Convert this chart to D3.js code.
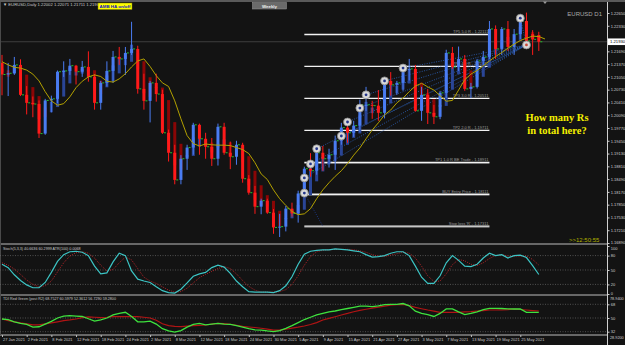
<!DOCTYPE html>
<meta charset="utf-8">
<style>
body,html { margin:0; padding:0; background:#131313; overflow:hidden; }
svg { display:block; font-family: "Liberation Sans", Arial, sans-serif; }
</style>
<svg width="625" height="345"></svg>
<script src="https://d3js.org/d3.v7.min.js"></script>
<script>

// --- data ---
var dates = ["27 Jan 2021","28 Jan 2021","29 Jan 2021","1 Feb 2021","2 Feb 2021","3 Feb 2021","4 Feb 2021","5 Feb 2021",
  "8 Feb 2021","9 Feb 2021","10 Feb 2021","11 Feb 2021","12 Feb 2021","15 Feb 2021","16 Feb 2021","17 Feb 2021",
  "18 Feb 2021","19 Feb 2021","22 Feb 2021","23 Feb 2021","24 Feb 2021","25 Feb 2021","26 Feb 2021","1 Mar 2021",
  "2 Mar 2021","3 Mar 2021","4 Mar 2021","5 Mar 2021","8 Mar 2021","9 Mar 2021","10 Mar 2021","11 Mar 2021",
  "12 Mar 2021","15 Mar 2021","16 Mar 2021","17 Mar 2021","18 Mar 2021","19 Mar 2021","22 Mar 2021","23 Mar 2021",
  "24 Mar 2021","25 Mar 2021","26 Mar 2021","29 Mar 2021","30 Mar 2021","31 Mar 2021","1 Apr 2021","2 Apr 2021",
  "5 Apr 2021","6 Apr 2021","7 Apr 2021","8 Apr 2021","9 Apr 2021","12 Apr 2021","13 Apr 2021","14 Apr 2021",
  "15 Apr 2021","16 Apr 2021","19 Apr 2021","20 Apr 2021","21 Apr 2021","22 Apr 2021","23 Apr 2021","26 Apr 2021",
  "27 Apr 2021","28 Apr 2021","29 Apr 2021","30 Apr 2021","3 May 2021","4 May 2021","5 May 2021","6 May 2021",
  "7 May 2021","10 May 2021","11 May 2021","12 May 2021","13 May 2021","14 May 2021","17 May 2021","18 May 2021",
  "19 May 2021","20 May 2021","21 May 2021","24 May 2021","25 May 2021","26 May 2021","27 May 2021","28 May 2021"];

var opens = [1.2140,1.2111,1.2114,1.2135,1.2060,1.2040,1.2037,1.1963,1.2046,1.2050,
  1.2118,1.2120,1.2133,1.2118,1.2130,1.2105,1.2040,1.2090,1.2120,1.2155,
  1.2150,1.2165,1.2175,1.2075,1.2045,1.2090,1.2062,1.1965,1.1915,1.1847,
  1.1900,1.1928,1.1985,1.1950,1.1930,1.1900,1.1980,1.1915,1.1905,1.1935,
  1.1850,1.1815,1.1780,1.1795,1.1765,1.1728,1.1730,1.1775,1.1763,1.1813,
  1.1875,1.1870,1.1915,1.1900,1.1910,1.1945,1.1978,1.1965,1.1983,1.2035,
  1.2035,1.2033,1.2015,1.2095,1.2085,1.2090,1.2125,1.2125,1.2020,1.2060,
  1.2015,1.2005,1.2065,1.2165,1.2130,1.2150,1.2075,1.2080,1.2145,1.2155,
  1.2225,1.2175,1.2225,1.2180,1.2212,1.2245,1.2212,1.2210];
var highs = [1.2160,1.2140,1.2155,1.2149,1.2082,1.2056,1.2046,1.2050,1.2058,1.2121,
  1.2144,1.2150,1.2135,1.2145,1.2169,1.2112,1.2095,1.2144,1.2170,1.2180,
  1.2180,1.2243,1.2183,1.2113,1.2095,1.2113,1.2073,1.1973,1.1935,1.1909,
  1.1935,1.1990,1.1988,1.1965,1.1952,1.1988,1.1990,1.1943,1.1945,1.1940,
  1.1859,1.1832,1.1800,1.1800,1.1774,1.1762,1.1782,1.1790,1.1820,1.1880,
  1.1914,1.1927,1.1932,1.1925,1.1958,1.1990,1.1995,1.1995,1.2048,1.2080,
  1.2045,1.2072,1.2100,1.2117,1.2095,1.2130,1.2150,1.2135,1.2080,1.2075,
  1.2035,1.2070,1.2173,1.2180,1.2181,1.2160,1.2090,1.2150,1.2170,1.2245,
  1.2234,1.2230,1.2245,1.2225,1.2262,1.2266,1.2222,1.2218];
var lows = [1.2059,1.2057,1.2110,1.2057,1.2011,1.2004,1.1952,1.1960,1.2016,1.2039,
  1.2105,1.2110,1.2086,1.2105,1.2093,1.2023,1.2023,1.2081,1.2090,1.2135,
  1.2110,1.2160,1.2063,1.2023,1.1991,1.2043,1.1962,1.1893,1.1836,1.1836,
  1.1872,1.1910,1.1910,1.1900,1.1882,1.1883,1.1910,1.1874,1.1885,1.1840,
  1.1810,1.1762,1.1761,1.1762,1.1712,1.1704,1.1718,1.1755,1.1740,1.1810,
  1.1855,1.1860,1.1870,1.1878,1.1872,1.1935,1.1940,1.1955,1.1968,1.2020,
  1.2000,1.1995,1.2001,1.2058,1.2060,1.2070,1.2096,1.2018,1.1995,1.1987,
  1.1987,1.1999,1.2052,1.2125,1.2120,1.2070,1.2052,1.2076,1.2135,1.2150,
  1.2150,1.2160,1.2170,1.2160,1.2200,1.2180,1.2160,1.2170];
var closes = [1.2111,1.2114,1.2135,1.2060,1.2040,1.2037,1.1963,1.2046,1.2050,1.2118,
  1.2120,1.2133,1.2118,1.2130,1.2105,1.2040,1.2090,1.2120,1.2155,1.2150,
  1.2165,1.2175,1.2075,1.2045,1.2090,1.2062,1.1965,1.1915,1.1847,1.1900,
  1.1928,1.1985,1.1950,1.1930,1.1900,1.1980,1.1915,1.1905,1.1935,1.1850,
  1.1815,1.1780,1.1795,1.1765,1.1728,1.1730,1.1775,1.1763,1.1813,1.1875,
  1.1870,1.1915,1.1900,1.1910,1.1945,1.1978,1.1965,1.1983,1.2035,1.2035,
  1.2033,1.2015,1.2095,1.2085,1.2090,1.2125,1.2125,1.2020,1.2060,1.2015,
  1.2005,1.2065,1.2165,1.2130,1.2150,1.2075,1.2080,1.2145,1.2155,1.2225,
  1.2175,1.2225,1.2180,1.2212,1.2245,1.2195,1.2199,1.2193];

// yellow moving average (drawn shifted, one value per bar slot)
var maVals = [1.2143,1.2135,1.2129,1.2127,1.2122,1.2112,1.2095,1.2068,1.2045,1.2034,
  1.2038,1.2055,1.2078,1.2094,1.2105,1.2110,1.2106,1.2094,1.2092,1.2100,
  1.2113,1.2130,1.2145,1.2150,1.2131,1.2108,1.2090,1.2081,1.2045,1.2000,
  1.1958,1.1938,1.1932,1.1937,1.1935,1.1934,1.1934,1.1933,1.1928,1.1923,
  1.1913,1.1890,1.1862,1.1848,1.1822,1.1800,1.1783,1.1768,1.1760,1.1762,
  1.1775,1.1800,1.1822,1.1840,1.1856,1.1870,1.1888,1.1909,1.1927,1.1950,
  1.1972,1.1990,1.2010,1.2022,1.2040,1.2052,1.2068,1.2082,1.2089,1.2080,
  1.2072,1.2058,1.2044,1.2046,1.2072,1.2098,1.2112,1.2121,1.2133,1.2145,
  1.2156,1.2166,1.2177,1.2187,1.2196,1.2202,1.2207,1.2206,1.2200];

var stochMain = [62,55,40,28,19,13,13,24,45,68,82,88,89,87,80,58,42,44,67,85,
  80,48,31,27,24,15,7,3,2,10,23,37,42,45,55,60,56,43,27,15,
  5,4,4,4,3,7,17,36,62,83,89,91,92,92,94,93,92,90,88,82,
  77,78,80,85,88,88,80,58,35,22,22,38,65,80,70,58,57,62,75,85,
  80,82,75,80,81,76,59,40.66];
var stochSignal = [65,60,52,41,29,20,15,17,27,46,65,79,86,88,85,75,60,48,51,65,
  77,71,53,35,27,22,15,8,4,5,12,23,34,41,47,53,57,53,42,28,
  16,8,4,4,4,5,9,20,38,60,78,88,91,92,93,93,93,92,90,87,
  82,79,78,81,84,87,85,75,58,38,26,27,42,61,72,69,62,59,65,74,
  80,82,79,79,79,79,72,60.3];
var stochLevels = [80, 50, 20];
var stochLabels = [100, 80, 50, 20, 0];

var tdiGreen = [48.7,47.8,45,43,41.5,38,38.5,42,45.5,50,52.5,53,52.5,52,49,46,47.4,50,54,56,
  57.5,52,45,45,46,42,36,33,31.5,33.5,38,41.7,43,41,42,43,42,41.7,40,38,
  36,34.5,34.2,33,32,33.5,36.5,40,44,48,51,54,56.2,58,59.2,61,62.5,64,65.5,65.5,
  65,66,67.5,68,68,69,66,59,56,54.5,52,56,62,62,58,54.5,56,58,61,62.7,
  62.7,62.5,62,61.8,61.8,57.5,57.5,57.5];
var tdiRed = [48.7,46.5,45,43.5,42.2,41,41,42.3,43.5,45,46.5,47.5,48.7,50.5,51.5,51,50.5,51,51.7,51.7,
  51.7,51.7,51.7,51,50,47,42.5,40,39,38.6,39.3,39.9,40.3,40.8,42,43,42.5,41.8,40.5,39,
  38.2,37.5,36.5,35.5,34.2,34.2,35.2,36.8,38,39.5,41.5,44,47.4,49.5,51.7,54,56,58.2,60,61.5,
  63,64.2,65.5,66.8,67.5,68,66.4,64,62.2,60.5,59,57.5,57.5,57.5,57.5,58,58.5,59.2,59.8,60.5,
  60.5,60.5,61,61.8,61.2,60.5,59.8,59.2];
var tdiLevels = [68, 50, 32];

// price labels (the one under the current price box is hidden in the chart)
var priceTicks = [1.22650,1.22330,1.21690,1.21370,1.21050,1.20730,1.20410,1.20090,1.19770,
  1.19450,1.19130,1.18810,1.18490,1.18170,1.17850,1.17530,1.17210,1.16890];
var currentPrice = 1.21930;

// trade levels (entry, stop and R multiples)
var levelPrices = [1.22111, 1.21311, 1.20511, 1.19711, 1.18911, 1.18111, 1.17311];
var levelNames = ["TP5 5.0 R", "TP4 4.0 R", "TP3 3.0 R", "TP2 2.0 R", "TP1 1.0 R BE Trade", "BUY Entry Price", "Stop loss 'R'"];
var levelStartBar = 49, levelEndBar = 79;

// R markers (bar index, price)
var markerBars = [49, 49, 50, 51, 55, 56, 58, 59, 62, 65, 84, 85];
var markerPrices = [1.1814, 1.1852, 1.1887, 1.1925, 1.1957, 1.1992, 1.2027, 1.2060, 1.2095, 1.2127, 1.2252, 1.2185];

// --- layout ---
var svg = d3.select("svg");
var W = 625, H = 345, axisX = 607.5;
var sans = "Liberation Sans, Arial, sans-serif";

var x = d3.scaleLinear().domain([0, 87]).range([2, 538.8]);
var y = d3.scaleLinear().domain([1.16890, 1.22650]).range([243, 13]);
var yS = d3.scaleLinear().domain([0, 100]).range([294, 246]);
var yT = d3.scaleLinear().domain([32, 68]).range([331.7, 304.3]);

svg.append("rect").attr("width", W).attr("height", H).attr("fill", "#131313");
svg.append("rect").attr("width", W).attr("height", 2).attr("fill", "#5a5a5a");

svg.append("clipPath").attr("id", "main").append("rect")
    .attr("x", 0).attr("y", 3).attr("width", axisX).attr("height", 240);
var main = svg.append("g").attr("clip-path", "url(#main)");

// current price line
main.append("line").attr("x1", 0).attr("x2", axisX)
    .attr("y1", y(currentPrice)).attr("y2", y(currentPrice))
    .attr("stroke", "#4a4a4a").attr("stroke-width", 0.8);

// trade level lines
levelPrices.forEach(function(p, i) {
  var low = i >= 4;
  if (low) main.append("line").attr("x1", x(levelStartBar)).attr("x2", x(levelEndBar))
      .attr("y1", y(p) + 1).attr("y2", y(p) + 1).attr("stroke", "#777").attr("stroke-width", 1.2);
  main.append("line").attr("x1", x(levelStartBar)).attr("x2", x(levelEndBar))
      .attr("y1", y(p)).attr("y2", y(p)).attr("stroke", "#f2f2f2").attr("stroke-width", 1.3);
  main.append("text").attr("x", x(levelEndBar) - 1).attr("y", y(p) - 1.3)
      .attr("text-anchor", "end").attr("font-size", 4).attr("fill", "#9a9a9a")
      .text(levelNames[i] + " - " + d3.format(".5f")(p));
});

// dotted fan from markers to the last marker
var last = markerBars.length - 1;
for (var k = 1; k < last; k++) {
  main.append("line")
      .attr("x1", x(markerBars[k])).attr("y1", y(markerPrices[k]))
      .attr("x2", x(markerBars[last])).attr("y2", y(markerPrices[last]))
      .attr("stroke", "#2f64c0").attr("stroke-width", 0.8).attr("stroke-dasharray", "1,1.4");
}
main.append("line")
    .attr("x1", x(markerBars[0])).attr("y1", y(markerPrices[0]))
    .attr("x2", x(52)).attr("y2", y(levelPrices[6]))
    .attr("stroke", "#1f3f9a").attr("stroke-width", 0.8).attr("stroke-dasharray", "1,1.4");

// Heiken Ashi bodies (derived from the OHLC arrays), drawn dark under the candles
var haO = [], haC = [];
opens.forEach(function(o, i) {
  haC[i] = (o + highs[i] + lows[i] + closes[i]) / 4;
  haO[i] = i === 0 ? (o + closes[i]) / 2 : (haO[i - 1] + haC[i - 1]) / 2;
});
var bw = 3;
main.selectAll(".ha").data(opens).enter().append("rect")
    .attr("x", function(d, i) { return x(i) - bw / 2; })
    .attr("y", function(d, i) { return y(Math.max(haO[i], haC[i])); })
    .attr("width", bw)
    .attr("height", function(d, i) { return Math.max(1, Math.abs(y(haO[i]) - y(haC[i]))); })
    .attr("fill", function(d, i) { return haC[i] >= haO[i] ? "#2a4596" : "#8a0606"; });

function col(i) { return closes[i] >= opens[i] ? "#4a7cf2" : "#ff1a1a"; }

main.selectAll(".wick").data(opens).enter().append("line")
    .attr("x1", function(d, i) { return x(i); }).attr("x2", function(d, i) { return x(i); })
    .attr("y1", function(d, i) { return y(highs[i]); })
    .attr("y2", function(d, i) { return y(lows[i]); })
    .attr("stroke", function(d, i) { return col(i); }).attr("stroke-width", 1);

main.selectAll(".body").data(opens).enter().append("rect")
    .attr("x", function(d, i) { return x(i) - bw / 2; })
    .attr("y", function(d, i) { return y(Math.max(opens[i], closes[i])); })
    .attr("width", bw)
    .attr("height", function(d, i) { return Math.max(1, Math.abs(y(opens[i]) - y(closes[i]))); })
    .attr("fill", function(d, i) { return col(i); });

main.selectAll(".ct").data(closes).enter().append("line")
    .attr("x1", function(d, i) { return x(i) + bw / 2; })
    .attr("x2", function(d, i) { return x(i) + bw / 2 + 2; })
    .attr("y1", function(d) { return y(d); }).attr("y2", function(d) { return y(d); })
    .attr("stroke", "#22c02a").attr("stroke-width", 1);

// moving average
main.append("path").datum(maVals)
    .attr("d", d3.line().x(function(d, i) { return x(i); }).y(function(d) { return y(d); }))
    .attr("fill", "none").attr("stroke", "#b3a100").attr("stroke-width", 1);

// R markers
markerBars.forEach(function(b, i) {
  var g = main.append("g").attr("transform", "translate(" + x(b) + "," + y(markerPrices[i]) + ")");
  g.append("circle").attr("r", 4).attr("fill", "#d8d8d8").attr("stroke", "#8a8a8a").attr("stroke-width", 0.8);
  g.append("circle").attr("r", 1.4).attr("fill", i === last ? "#c84a3a" : "#23358a");
});

// annotations
var serif = "Liberation Serif, 'DejaVu Serif', serif";
svg.append("text").attr("x", 557).attr("y", 121).attr("text-anchor", "middle")
    .style("font-family", serif).attr("font-weight", "bold")
    .attr("font-size", 10.5).attr("fill", "#f5f000").text("How many Rs");
svg.append("text").attr("x", 557).attr("y", 134).attr("text-anchor", "middle")
    .style("font-family", serif).attr("font-weight", "bold")
    .attr("font-size", 10.5).attr("fill", "#f5f000").text("in total here?");
svg.append("text").attr("x", 569).attr("y", 242).attr("font-size", 6)
    .attr("fill", "#b0b000").text(">>12:50:55");
svg.append("text").attr("x", 602).attr("y", 16).attr("text-anchor", "end").attr("font-size", 6)
    .attr("fill", "#a8a8a8").text("EURUSD D1");
svg.append("text").attr("x", 3).attr("y", 6.3).attr("font-size", 4.2).attr("fill", "#c8c8c8")
    .text("\u25BC EURUSD,Daily  1.22002 1.22071 1.21711 1.21965");
svg.append("path").attr("d", "M543,1.5 L547,1.5 L545,4 Z").attr("fill", "#9a9a9a");

// buttons
svg.append("rect").attr("x", 98).attr("y", 3).attr("width", 34).attr("height", 6.5)
    .attr("fill", "#ffff00").attr("stroke", "#808000").attr("stroke-width", 0.5);
svg.append("text").attr("x", 115).attr("y", 8).attr("text-anchor", "middle").attr("font-size", 4.4)
    .attr("font-weight", "bold").attr("fill", "#1010c0").text("AMB HA on/off");
svg.append("rect").attr("x", 252.5).attr("y", 2.5).attr("width", 34).attr("height", 6.5)
    .attr("fill", "#6a6a6a").attr("stroke", "#9a9a9a").attr("stroke-width", 0.5);
svg.append("text").attr("x", 269.5).attr("y", 7.5).attr("text-anchor", "middle").attr("font-size", 4.4)
    .attr("font-weight", "bold").attr("fill", "#f0f0f0").text("Weekly");

// pane separators
[244, 295, 335].forEach(function(v) {
  svg.append("line").attr("x1", 0).attr("x2", axisX).attr("y1", v).attr("y2", v)
      .attr("stroke", "#bdbdbd").attr("stroke-width", 1);
});
svg.append("line").attr("x1", 0.5).attr("x2", 0.5).attr("y1", 2).attr("y2", 335)
    .attr("stroke", "#4a4a4a");

// stochastic pane
stochLevels.forEach(function(v) {
  svg.append("line").attr("x1", 0).attr("x2", axisX).attr("y1", yS(v)).attr("y2", yS(v))
      .attr("stroke", "#6a6a6a").attr("stroke-width", 0.7).attr("stroke-dasharray", "1,1.5");
});
var sLine = d3.line().x(function(d, i) { return x(i); }).y(function(d) { return yS(d); });
svg.append("path").datum(stochSignal).attr("d", sLine).attr("fill", "none")
    .attr("stroke", "#c0262a").attr("stroke-width", 0.9).attr("stroke-dasharray", "1,1.2");
svg.append("path").datum(stochMain).attr("d", sLine).attr("fill", "none")
    .attr("stroke", "#3cc4c4").attr("stroke-width", 1.2);
svg.append("text").attr("x", 3).attr("y", 250).attr("font-size", 3.7).attr("fill", "#c8c8c8")
    .text("Stoch(5,3,3) 40.6636 60.2999  ATR(100) 0.0068");

// TDI pane
tdiLevels.forEach(function(v) {
  svg.append("line").attr("x1", 0).attr("x2", axisX).attr("y1", yT(v)).attr("y2", yT(v))
      .attr("stroke", "#6a6a6a").attr("stroke-width", 0.7).attr("stroke-dasharray", "1,1.5");
});
var tLine = d3.line().x(function(d, i) { return x(i); }).y(function(d) { return yT(d); });
svg.append("path").datum(tdiRed).attr("d", tLine).attr("fill", "none")
    .attr("stroke", "#b01414").attr("stroke-width", 1.2);
svg.append("path").datum(tdiGreen).attr("d", tLine).attr("fill", "none")
    .attr("stroke", "#3ee23e").attr("stroke-width", 1.3);
svg.append("text").attr("x", 3).attr("y", 300).attr("font-size", 3.7).attr("fill", "#c8c8c8")
    .text("TDI Red Green (post R2) 68.7527 60.5979 52.3612 56.7290 59.2800");

// price axis
svg.append("line").attr("x1", axisX).attr("x2", axisX).attr("y1", 2).attr("y2", 345)
    .attr("stroke", "#d0d0d0").attr("stroke-width", 1);
var pAxis = svg.append("g").attr("transform", "translate(" + axisX + ",0)")
    .call(d3.axisRight(y).tickValues(priceTicks).tickSize(2).tickPadding(1.2).tickFormat(d3.format(".5f")));
var sAxis = svg.append("g").attr("transform", "translate(" + axisX + ",0)")
    .call(d3.axisRight(yS).tickValues(stochLabels).tickSize(2).tickPadding(1.2));
var tAxis = svg.append("g").attr("transform", "translate(" + axisX + ",0)")
    .call(d3.axisRight(yT).tickValues(tdiLevels).tickSize(2).tickPadding(1.2));
[pAxis, sAxis, tAxis].forEach(function(g) {
  g.select(".domain").remove();
  g.selectAll("line").attr("stroke", "#d0d0d0");
  g.selectAll("text").attr("font-size", 4).attr("fill", "#d0d0d0").style("font-family", sans);
});
// keep the end labels of neighbouring panes apart
pAxis.selectAll("text").filter(function(d) { return d === 1.16890; }).attr("dy", "0.05em");
sAxis.selectAll("text").filter(function(d) { return d === 100; }).attr("dy", "0.95em");
sAxis.selectAll("text").filter(function(d) { return d === 0; }).attr("dy", "0em");
svg.append("text").attr("x", 610).attr("y", 299.5).attr("font-size", 3.8).attr("fill", "#d0d0d0").text("78.9400");
svg.append("text").attr("x", 610).attr("y", 338.5).attr("font-size", 3.8).attr("fill", "#d0d0d0").text("28.9200");

// current price box
svg.append("rect").attr("x", axisX + 0.5).attr("y", y(currentPrice) - 3.3).attr("width", 17).attr("height", 6.6)
    .attr("fill", "#ffffff");
svg.append("text").attr("x", axisX + 2.5).attr("y", y(currentPrice) + 1.5).attr("font-size", 4.2)
    .attr("fill", "#000").text(d3.format(".5f")(currentPrice));

// date axis
var dateIdx = dates.map(function(d, i) { return i; }).filter(function(i) { return i % 4 === 0; });
var dAxis = svg.append("g").attr("transform", "translate(0,335)")
    .call(d3.axisBottom(x).tickValues(dateIdx).tickSize(2).tickPadding(1.5)
      .tickFormat(function(i) { return dates[i]; }));
dAxis.select(".domain").remove();
dAxis.selectAll("line").attr("stroke", "#bdbdbd");
dAxis.selectAll("text").attr("text-anchor", "start").attr("x", 0.5).attr("font-size", 4)
    .attr("fill", "#c8c8c8").style("font-family", sans);

</script>
